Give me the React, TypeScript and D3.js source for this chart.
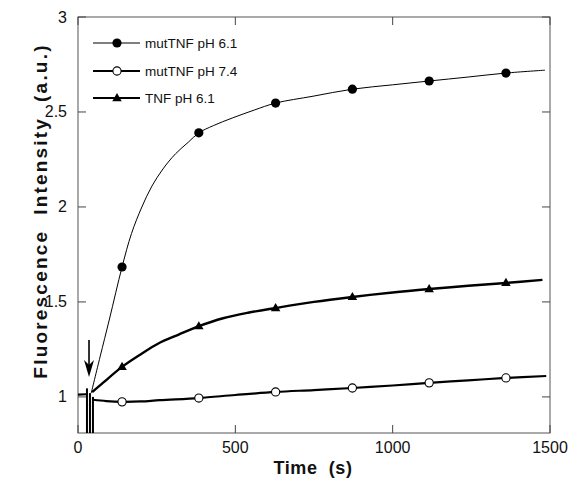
import React from "react";
import * as d3 from "d3";

// ---- data ----
const markerTimes = [140, 384, 628, 872, 1116, 1360];

const mut61Curve: [number, number][] = [
  [42, 1.02], [70, 1.21], [100, 1.41], [140, 1.684], [170, 1.86],
  [203, 2.0], [235, 2.11], [270, 2.2], [310, 2.28], [350, 2.34],
  [384, 2.39], [430, 2.428], [490, 2.468], [560, 2.51], [628, 2.547],
  [747, 2.583], [872, 2.62], [1000, 2.643], [1116, 2.663], [1240, 2.684],
  [1360, 2.705], [1484, 2.72],
];
const mut61Markers = [1.684, 2.39, 2.547, 2.62, 2.663, 2.705];

const mut74Curve: [number, number][] = [
  [48, 0.985], [90, 0.978], [140, 0.974], [200, 0.976], [260, 0.983],
  [384, 0.994], [500, 1.01], [628, 1.026], [750, 1.036], [872, 1.047],
  [1000, 1.06], [1116, 1.074], [1240, 1.087], [1360, 1.1], [1488, 1.11],
];
const mut74Markers = [0.974, 0.994, 1.026, 1.047, 1.074, 1.1];

const tnf61Curve: [number, number][] = [
  [45, 1.025], [80, 1.075], [140, 1.158], [200, 1.225], [254, 1.28],
  [320, 1.328], [384, 1.372], [461, 1.414], [540, 1.443], [628, 1.468],
  [750, 1.5], [872, 1.526], [1000, 1.55], [1116, 1.568], [1240, 1.585],
  [1360, 1.6], [1476, 1.616],
];
const tnf61Markers = [1.158, 1.372, 1.468, 1.526, 1.568, 1.6];

const baseline: [number, number][] = [[0, 1.012], [27, 1.014]];
const spikes = [
  { t: 28.5, top: 1.045 },
  { t: 38, top: 1.02 },
  { t: 47.5, top: 1.0 },
];
const arrow = { t: 35, top: 1.3, tip: 1.105 };

const xTicks = [0, 500, 1000, 1500];
const yTicks = [1, 1.5, 2, 2.5, 3];
const legendLabels = ["mutTNF pH 6.1", "mutTNF pH 7.4", "TNF pH 6.1"];

// ---- layout ----
const W = 570, H = 478;
const L = 78, R = 550, T = 17, B = 433;

export default function App() {
  const x = d3.scaleLinear().domain([0, 1500]).range([L, R]);
  const y = d3.scaleLinear().domain([0.81, 3]).range([B, T]);
  const line = d3
    .line<[number, number]>()
    .x((d) => x(d[0]))
    .y((d) => y(d[1]))
    .curve(d3.curveCatmullRom.alpha(0.5));

  const font = "'Liberation Sans', Arial, Helvetica, sans-serif";
  const tri = (cx: number, cy: number, s = 9.5) => {
    const h = s * 0.866;
    return `M${cx},${cy - h * 0.62}L${cx + s / 2},${cy + h * 0.38}L${cx - s / 2},${cy + h * 0.38}Z`;
  };
  const tickLen = 8;
  const legendY = [43, 71, 98];

  return (
    <svg
      width={W}
      height={H}
      style={{ position: "absolute", left: 0, top: 0, background: "#fff" }}
      fontFamily={font}
    >
      <defs>
        <clipPath id="plot">
          <rect x={L} y={T} width={R - L} height={B - T} />
        </clipPath>
      </defs>
      {/* frame */}
      <rect x={L} y={T} width={R - L} height={B - T} fill="none" stroke="#555" strokeWidth={1} />
      {/* ticks */}
      {yTicks.map((v) => (
        <g key={"y" + v}>
          <line x1={L} x2={L + tickLen} y1={y(v)} y2={y(v)} stroke="#444" />
          <line x1={R} x2={R - tickLen} y1={y(v)} y2={y(v)} stroke="#444" />
          <text x={L - 11} y={y(v) + 5.5} textAnchor="end" fontSize={16} fill="#111">
            {v}
          </text>
        </g>
      ))}
      {xTicks.map((v) => (
        <g key={"x" + v}>
          <line x1={x(v)} x2={x(v)} y1={B} y2={B - tickLen} stroke="#444" />
          <line x1={x(v)} x2={x(v)} y1={T} y2={T + tickLen} stroke="#444" />
          <text x={x(v)} y={453} textAnchor="middle" fontSize={16} fill="#111">
            {v}
          </text>
        </g>
      ))}
      {/* axis titles */}
      <text x={313} y={474} textAnchor="middle" fontSize={18} fontWeight="bold" letterSpacing={0.6} fill="#111" style={{ whiteSpace: "pre" }}>
        {"Time  (s)"}
      </text>
      <text
        transform={`translate(46.5,${211}) rotate(-90)`}
        textAnchor="middle"
        fontSize={19}
        fontWeight="bold"
        letterSpacing={2.2}
        fill="#111"
        style={{ whiteSpace: "pre" }}
      >
        {"Fluorescence  Intensity  (a.u.)"}
      </text>

      <g clipPath="url(#plot)">
        {/* injection artifacts */}
        <path d={line(baseline) || ""} fill="none" stroke="#000" strokeWidth={2.2} />
        {spikes.map((s, i) => (
          <line
            key={i}
            x1={x(s.t)}
            x2={x(s.t)}
            y1={y(s.top)}
            y2={B}
            stroke="#000"
            strokeWidth={2}
          />
        ))}
        {/* curves */}
        <path d={line(mut61Curve) || ""} fill="none" stroke="#000" strokeWidth={1} />
        <path d={line(mut74Curve) || ""} fill="none" stroke="#000" strokeWidth={2.2} />
        <path d={line(tnf61Curve) || ""} fill="none" stroke="#000" strokeWidth={2.4} />
      </g>

      {/* markers */}
      {markerTimes.map((t, i) => (
        <circle key={"a" + i} cx={x(t)} cy={y(mut61Markers[i])} r={4.6} fill="#000" />
      ))}
      {markerTimes.map((t, i) => (
        <circle key={"b" + i} cx={x(t)} cy={y(mut74Markers[i])} r={4.1} fill="#fff" stroke="#000" strokeWidth={1.1} />
      ))}
      {markerTimes.map((t, i) => (
        <path key={"c" + i} d={tri(x(t), y(tnf61Markers[i]))} fill="#000" />
      ))}

      {/* arrow */}
      <line x1={x(arrow.t)} x2={x(arrow.t)} y1={y(arrow.top)} y2={y(arrow.tip) - 10} stroke="#000" strokeWidth={1.6} />
      <path
        d={`M${x(arrow.t) - 5},${y(arrow.tip) - 17}L${x(arrow.t)},${y(arrow.tip)}L${x(arrow.t) + 5},${y(arrow.tip) - 17}L${x(arrow.t)},${y(arrow.tip) - 12}Z`}
        fill="#000"
      />

      {/* legend */}
      {legendLabels.map((lab, i) => (
        <g key={lab}>
          <line x1={93} x2={140} y1={legendY[i]} y2={legendY[i]} stroke="#000" strokeWidth={i === 0 ? 1 : 2} />
          {i === 0 && <circle cx={117} cy={legendY[i]} r={4.6} fill="#000" />}
          {i === 1 && <circle cx={117} cy={legendY[i]} r={4.1} fill="#fff" stroke="#000" strokeWidth={1.1} />}
          {i === 2 && <path d={tri(117, legendY[i])} fill="#000" />}
          <text x={145} y={legendY[i] + 5} fontSize={13.5} fill="#111">
            {lab}
          </text>
        </g>
      ))}
    </svg>
  );
}
